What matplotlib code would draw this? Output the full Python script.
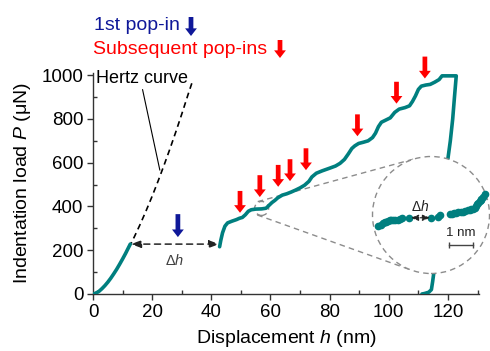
import matplotlib
matplotlib.use('Agg')
import matplotlib.pyplot as plt
from matplotlib.patches import Ellipse
import numpy as np

plt.rcParams['font.family'] = ['Liberation Sans', 'DejaVu Sans']
plt.rcParams['mathtext.fontset'] = 'custom'
plt.rcParams['mathtext.rm'] = 'Liberation Sans'
plt.rcParams['mathtext.it'] = 'Liberation Sans:italic'

TEAL = '#007f7f'
RED = '#ff0000'
NAVY = '#0f1899'
GREY = '#8c8c8c'

# elastic loading up to the first pop-in
elastic_h = [0, 1, 2, 3, 4, 5, 6, 7, 8, 9, 10, 11, 12, 12.6]
elastic_P = [0, 4, 12, 24, 38, 54, 72, 92, 113, 136, 160, 185, 212, 228]

# loading after the first pop-in, then unloading
plastic_h = [42.8, 43.2, 43.8, 44.6, 45.5, 47.0, 48.5, 49.5, 50.5, 51.5, 52.5, 53.5,
             55.0, 57.0, 58.5, 59.5, 60.5, 61.5, 62.5, 64.0, 65.5, 67.0, 68.5, 70.0,
             71.5, 73.0, 74.0, 75.5, 77.5, 80.0, 82.0, 83.5, 85.0, 86.3, 87.5, 88.5,
             89.8, 91.5, 93.0, 94.5, 95.5, 96.5, 97.5, 99.0, 100.5, 102.0, 103.5,
             105.5, 107.0, 108.0, 109.0, 110.0, 111.0, 112.5, 114.0, 115.5, 117.0,
             118.0, 122.8,
             122.2, 121.6, 120.8, 120.0, 119.0, 118.0, 117.0, 116.0, 115.2, 114.8,
             114.4, 113.5, 112.0, 111.2]
plastic_P = [216, 245, 280, 310, 325, 333, 340, 346, 350, 362, 378, 385,
             388, 389, 392, 405, 418, 428, 440, 452, 458, 466, 475, 485,
             497, 515, 535, 552, 563, 575, 585, 597, 615, 640, 665, 677,
             688, 694, 700, 715, 735, 765, 785, 795, 805, 830, 845,
             852, 860, 880, 905, 935, 950, 955, 958, 968, 980,
             997, 997,
             900, 800, 700, 620, 500, 380, 260, 160, 95, 55,
             20, 8, 2, 0]

# Hertz curve
hertz_h = [0, 2, 4, 6, 8, 10, 12, 14, 16, 18, 20, 22, 24, 26, 28, 30, 32, 33.4]
hertz_P = [0, 14, 40, 73, 113, 158, 208, 262, 320, 382, 447, 516, 588, 663, 741, 822, 906, 963]

# first pop-in (start h, end h, load)
popin1_h = [12.8, 42.7]
popin1_P = 228
popin1_arrow_h = 28.7
popin1_arrow_P = 260

# subsequent pop-ins: h and load at arrow tip
popin_h = [49.7, 56.4, 62.6, 66.6, 72.0, 89.4, 102.6, 112.2]
popin_P = [371, 443, 490, 516, 566, 721, 870, 985]

# zoomed detail around h ~ 57 nm
zoom_center = (57.0, 391)
detail_h = [54.82, 54.95, 55.03, 55.10, 55.17, 55.24, 55.31, 55.38, 55.45, 55.55,
            55.65, 55.75, 55.84, 56.14, 57.05, 57.32, 57.42, 57.81, 57.90, 58.00,
            58.09, 58.18, 58.27, 58.36, 58.45, 58.57, 58.65, 58.72, 58.78, 58.85,
            58.92, 58.96, 59.00, 59.06, 59.10, 59.14, 59.20, 59.27]
detail_P = [387.0, 387.6, 388.2, 388.8, 389.1, 389.6, 389.9, 390.0, 390.0, 390.2,
            390.4, 390.7, 391.0, 391.5, 391.4, 391.9, 392.7, 393.6, 393.8, 394.0,
            394.2, 394.4, 394.6, 394.8, 395.1, 395.5, 395.8, 396.1, 396.5, 397.0,
            398.3, 399.0, 399.7, 400.7, 401.5, 402.2, 403.2, 404.9]
detail_gap_h = [56.2, 57.0]
detail_gap_P = 391.4
scalebar_h = [57.79, 58.79]
scalebar_P = 376.3

fig = plt.figure(figsize=(4.9, 3.51), dpi=100)
ax = fig.add_axes([0.1898, 0.1624, 0.7878, 0.6296])

ax.plot(hertz_h, hertz_P, color='k', lw=1.2, ls=(0, (3.5, 2.5)), zorder=2)
ax.plot(elastic_h, elastic_P, color=TEAL, lw=2.6, solid_capstyle='round',
        solid_joinstyle='round', zorder=3)
ax.plot(plastic_h, plastic_P, color=TEAL, lw=2.6, solid_capstyle='round',
        solid_joinstyle='round', zorder=3)

ax.set_xlim(0, 130.5)
ax.set_ylim(0, 1010)
ax.set_xticks(np.arange(0, 121, 20))
ax.set_xticks(np.arange(10, 131, 10), minor=True)
ax.set_yticks(np.arange(0, 1001, 200))
ax.set_yticks(np.arange(100, 1001, 100), minor=True)
for s in ['top', 'right']:
    ax.spines[s].set_visible(False)
for s in ['left', 'bottom']:
    ax.spines[s].set_linewidth(1.0)
    ax.spines[s].set_color('#333333')
ax.tick_params(which='major', direction='out', length=4, width=1, color='#333333',
               labelsize=13.5, pad=3)
ax.tick_params(which='minor', direction='in', length=3, width=1, color='#333333')
ax.set_xlabel('Displacement $h$ (nm)', fontsize=14, labelpad=5)
ax.set_ylabel('Indentation load $P$ (μN)', fontsize=14, labelpad=6)

# Hertz label
ax.annotate('Hertz curve', xy=(22.6, 566), xytext=(1.0, 986), fontsize=13,
            va='center', ha='left',
            arrowprops=dict(arrowstyle='-', lw=0.8, color='k', shrinkA=0, shrinkB=0,
                            relpos=(0.5, 0)))

# first pop-in gap
ax.annotate('', xy=(popin1_h[1], popin1_P), xytext=(popin1_h[0], popin1_P),
            arrowprops=dict(arrowstyle='<|-|>,head_length=0.6,head_width=0.22',
                            color='#222222', lw=1.1, ls=(0, (4, 3)),
                            shrinkA=0, shrinkB=0))
ax.text(np.mean(popin1_h), 155, 'Δ$h$', fontsize=10.5, color='#404040',
        ha='center', va='center')

arrow_style = 'simple,head_length=5.5,head_width=8.5,tail_width=3.4'
ax.annotate('', xy=(popin1_arrow_h, popin1_arrow_P),
            xytext=(popin1_arrow_h, popin1_arrow_P + 105),
            arrowprops=dict(arrowstyle=arrow_style, mutation_scale=1, color=NAVY,
                            lw=0, shrinkA=0, shrinkB=0))
for h, p in zip(popin_h, popin_P):
    ax.annotate('', xy=(h, p), xytext=(h, p + 100), annotation_clip=False,
                arrowprops=dict(arrowstyle=arrow_style, mutation_scale=1, color=RED,
                                lw=0, shrinkA=0, shrinkB=0))

# legend-like header
fig.text(94 / 490, 1 - 25 / 351, '1st pop-in', color=NAVY, fontsize=14, va='center')
fig.text(93 / 490, 1 - 49 / 351, 'Subsequent pop-ins', color=RED, fontsize=14, va='center')
ax.annotate('', xy=(191, 351 - 36), xytext=(191, 351 - 17), xycoords='figure pixels',
            textcoords='figure pixels',
            arrowprops=dict(arrowstyle=arrow_style, mutation_scale=1, color=NAVY,
                            lw=0, shrinkA=0, shrinkB=0))
ax.annotate('', xy=(280, 351 - 58), xytext=(280, 351 - 40), xycoords='figure pixels',
            textcoords='figure pixels',
            arrowprops=dict(arrowstyle=arrow_style, mutation_scale=1, color=RED,
                            lw=0, shrinkA=0, shrinkB=0))

# inset (magnified view)
axins = fig.add_axes([372.5 / 490, 77.5 / 351, 117 / 490, 117 / 351])
axins.set_axis_off()
axins.set_xlim(54.6, 54.6 + 117 / 24)
axins.set_ylim(360, 360 + 117 / 1.775)
axins.add_patch(Ellipse((0.5, 0.5), 1, 1, transform=axins.transAxes, facecolor='white',
                        edgecolor=GREY, lw=1, ls=(0, (4, 3)), zorder=0, clip_on=False))
axins.plot(detail_h, detail_P, 'o', color=TEAL, ms=5.5, mec='none', zorder=3)
axins.annotate('', xy=(detail_gap_h[1], detail_gap_P), xytext=(detail_gap_h[0], detail_gap_P),
               arrowprops=dict(arrowstyle='<|-|>,head_length=0.45,head_width=0.18',
                               color='#222222', lw=0.8, ls=(0, (2, 1.5)),
                               shrinkA=0, shrinkB=0))
axins.text(np.mean(detail_gap_h), 397.5, 'Δ$h$', fontsize=10, color='#222222',
           ha='center', va='center')
axins.plot(scalebar_h, [scalebar_P] * 2, color='#444444', lw=1, marker='|', ms=5, mew=1)
axins.text(np.mean(scalebar_h), scalebar_P + 3, '1 nm', fontsize=9.5, color='#222222',
           ha='center', va='bottom')

# small circle and connecting tangents
c1 = ax.transData.transform(zoom_center)
c2 = axins.transAxes.transform((0.5, 0.5))
r1 = 7.0
r2 = axins.transAxes.transform((1, 0.5))[0] - c2[0]
pxx = ax.transData.transform((1, 0))[0] - ax.transData.transform((0, 0))[0]
pxy = ax.transData.transform((0, 1))[1] - ax.transData.transform((0, 0))[1]
ax.add_patch(Ellipse(zoom_center, 2 * r1 / pxx, 2 * r1 / pxy, facecolor='none',
                     edgecolor=GREY, lw=1, ls=(0, (4, 3)), zorder=1))
d = c2 - c1
D = np.hypot(*d)
dh = d / D
perp = np.array([-dh[1], dh[0]])
ca = (r1 - r2) / D
sa = np.sqrt(1 - ca ** 2)
inv = ax.transData.inverted()
for sgn in (1, -1):
    n = ca * dh + sgn * sa * perp
    p1 = c1 + r1 * n - 2 * dh
    p2 = c2 + r2 * n
    pts = inv.transform(np.array([p1, p2]))
    ax.plot(pts[:, 0], pts[:, 1], color=GREY, lw=1, ls=(0, (4, 3)), zorder=1,
            clip_on=False)

fig.savefig('out.png', dpi=100)
